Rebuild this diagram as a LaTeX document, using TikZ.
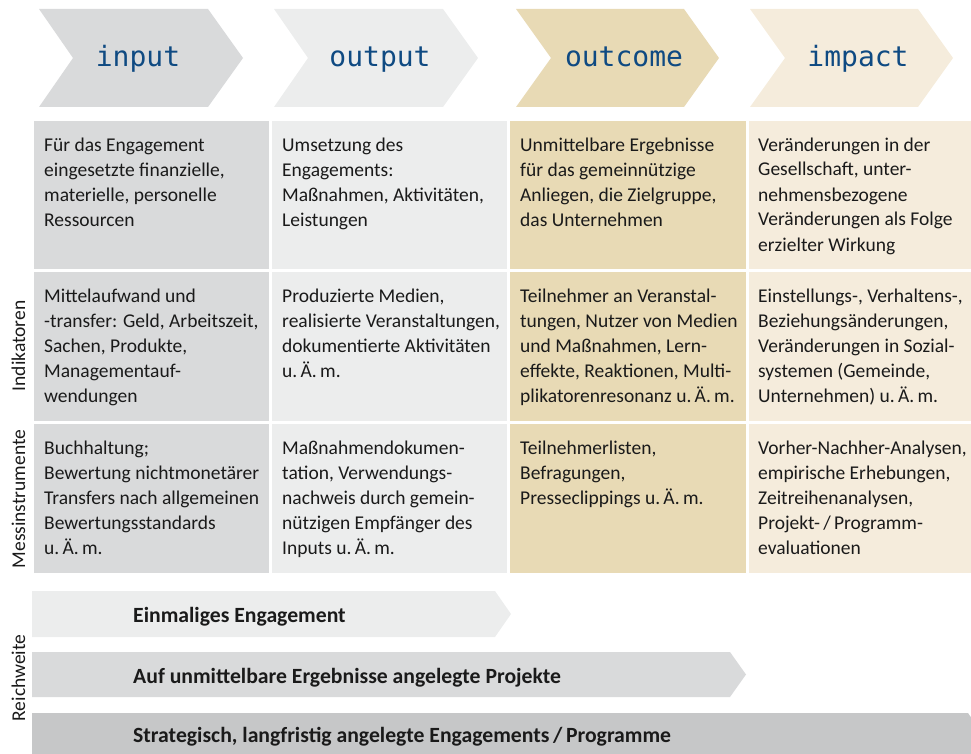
\documentclass[tikz,border=0pt]{standalone}
\usepackage{fontspec}
\setmainfont{Carlito}
\newfontfamily\monofont{DejaVu Sans Mono}
\definecolor{cIn}{HTML}{D9DADB}
\definecolor{cOut}{HTML}{ECEDED}
\definecolor{cOc}{HTML}{E8DAB5}
\definecolor{cIm}{HTML}{F5ECDC}
\definecolor{cBarC}{HTML}{C6C7C8}
\definecolor{hblue}{HTML}{0F4A82}
\definecolor{txt}{HTML}{1A1A1A}
\begin{document}
\begin{tikzpicture}[x=1pt,y=-1pt,
  head/.style={anchor=base,inner sep=0pt,text=hblue,font=\monofont\fontsize{28}{30}\selectfont},
  cell/.style={anchor=base west,align=left,inner sep=0pt,text=txt,font=\fontsize{19.5}{25}\selectfont},
  side/.style={rotate=90,anchor=base,inner sep=0pt,text=txt,font=\fontsize{19.5}{25}\selectfont},
  bartext/.style={anchor=base west,inner sep=0pt,text=txt,font=\bfseries\fontsize{21.7}{25}\selectfont}]
\path[use as bounding box] (0,0) rectangle (971,754);
\clip (0,0) rectangle (971,754);
% header chevrons
\fill[cIn]  (39,9)  -- (208,9) -- (243,58) -- (208,107) -- (39,107) -- (73,58) -- cycle;
\fill[cOut] (274,9) -- (443,9) -- (478,58) -- (443,107) -- (274,107) -- (308,58) -- cycle;
\fill[cOc]  (516,9) -- (684,9) -- (719,58) -- (684,107) -- (516,107) -- (551,58) -- cycle;
\fill[cIm]  (750,9) -- (918,9) -- (953,58) -- (918,107) -- (750,107) -- (785,58) -- cycle;
\node[head] (hin)  at (138,67) {input};
\node[head] (hout) at (380,67) {output};
\node[head] (hoc)  at (624,67) {outcome};
\node[head] (him)  at (858,67) {impact};
% cells
\foreach \ya/\yb in {121/269,272/421,424/573}{
  \fill[cIn]  (34,\ya)  rectangle (269,\yb);
  \fill[cOut] (272,\ya) rectangle (507,\yb);
  \fill[cOc]  (510,\ya) rectangle (746,\yb);
  \fill[cIm]  (749,\ya) rectangle (971,\yb);
}
% (base anchor of a multi-line node = baseline of its last line)
\node[cell] (a1) at (44,226) {Für das Engagement\\eingesetzte finanzielle,\\materielle, personelle\\Ressourcen};
\node[cell] (a2) at (282,226) {Umsetzung des\\Engagements:\\Maßnahmen, Aktivitäten,\\Leistungen};
\node[cell] (a3) at (520,226) {Unmittelbare Ergebnisse\\für das gemeinnützige\\Anliegen, die Zielgruppe,\\das Unternehmen};
\node[cell] (a4) at (758,251) {Veränderungen in der\\Gesellschaft, unter-\\nehmensbezogene\\Veränderungen als Folge\\erzielter Wirkung};
\node[cell] (b1) at (44,402) {Mittelaufwand und\\-transfer: Geld, Arbeitszeit,\\Sachen, Produkte,\\Managementauf-\\wendungen};
\node[cell] (b2) at (282,377) {Produzierte Medien,\\realisierte Veranstaltungen,\\dokumentierte Aktivitäten\\u.\,Ä.\,m.};
\node[cell] (b3) at (520,402) {Teilnehmer an Veranstal-\\tungen, Nutzer von Medien\\und Maßnahmen, Lern-\\effekte, Reaktionen, Multi-\\plikatorenresonanz u.\,Ä.\,m.};
\node[cell] (b4) at (758,402) {Einstellungs-, Verhaltens-,\\Beziehungsänderungen,\\Veränderungen in Sozial-\\systemen (Gemeinde,\\Unternehmen) u.\,Ä.\,m.};
\node[cell] (c1) at (44,554) {Buchhaltung;\\Bewertung nichtmonetärer\\Transfers nach allgemeinen\\Bewertungsstandards\\u.\,Ä.\,m.};
\node[cell] (c2) at (282,554) {Maßnahmendokumen-\\tation, Verwendungs-\\nachweis durch gemein-\\nützigen Empfänger des\\Inputs u.\,Ä.\,m.};
\node[cell] (c3) at (520,504) {Teilnehmerlisten,\\Befragungen,\\Presseclippings u.\,Ä.\,m.};
\node[cell] (c4) at (758,554) {Vorher-Nachher-Analysen,\\empirische Erhebungen,\\Zeitreihenanalysen,\\Projekt-\,/\,Programm-\\evaluationen};
% side labels
\node[side] (lind) at (25,346) {Indikatoren};
\node[side] (lmes) at (25,499) {Messinstrumente};
\node[side] (lrei) at (25,678) {Reichweite};
% bottom bars
\fill[cOut]  (32,591) -- (495,591) -- (511,614) -- (495,637) -- (32,637) -- cycle;
\fill[cIn]   (32,652) -- (730,652) -- (746,674.5) -- (730,697) -- (32,697) -- cycle;
\fill[cBarC] (32,713) -- (968,713) -- (984,736) -- (968,759) -- (32,759) -- cycle;
\node[bartext] (r1) at (133,622) {Einmaliges Engagement};
\node[bartext] (r2) at (133,683) {Auf unmittelbare Ergebnisse angelegte Projekte};
\node[bartext] (r3) at (133,742) {Strategisch, langfristig angelegte Engagements\,/\,Programme};
\end{tikzpicture}
\end{document}
